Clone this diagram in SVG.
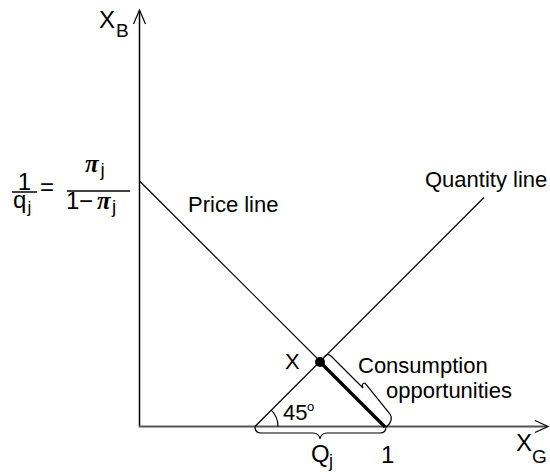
<svg xmlns="http://www.w3.org/2000/svg" width="550" height="472" viewBox="0 0 550 472">
<style>
text{font-family:"Liberation Sans",Arial,sans-serif;fill:#000}
.lbl{font-size:22px}
.big{font-size:24px}
.sub{font-size:17px}
.pi{font-family:"Liberation Serif","DejaVu Serif",serif;font-style:italic;font-weight:bold;font-size:25px}
.ln{fill:none;stroke:#000;stroke-width:1.2}
</style>
<rect width="550" height="472" fill="#fff"/>
<g id="connectors">
  <line id="y-axis" x1="139.5" y1="11" x2="139.5" y2="427" stroke="#000" stroke-width="1.5"/>
  <polyline points="133.5,24 139.5,10 145.5,24" class="ln" stroke-width="1.6"/>
  <line id="x-axis" x1="139" y1="426.5" x2="547" y2="426.5" stroke="#555" stroke-width="2"/>
  <polyline points="535,420.5 548,426.5 535,432.5" class="ln" stroke-width="1.6"/>
  <line id="price-line" x1="139.5" y1="181" x2="386" y2="427" class="ln"/>
  <line id="quantity-line" x1="255" y1="426.5" x2="484" y2="197.5" class="ln"/>
  <line id="consumption-seg" x1="320" y1="362" x2="385" y2="427" stroke="#000" stroke-width="3.2"/>
  <path id="angle-arc" d="M278,426.5 A23,23 0 0 0 271.3,410.2" class="ln"/>
  <path id="brace-bottom" d="M255,427 Q255,433 261,433 L313,433 Q319,433 320,439 Q321,433 327,433 L380,433 Q386,433 386,427" class="ln"/>
  <path id="brace-diagonal" d="M324,357 Q327,353 331,356 L356,381 Q359,384 363,388 Q361,383 365,383 L390,414 Q394,420 386.5,427" class="ln"/>
  <circle id="point-x" cx="320" cy="362" r="5" fill="#000"/>
</g>
<g id="label-xb"><text x="99" y="28" class="big">X</text><text x="116" y="37" class="sub" style="font-size:19px">B</text></g>
<g id="label-xg"><text x="516" y="451" class="big">X</text><text x="532" y="463" class="sub" style="font-size:19px">G</text></g>
<g id="label-intercept">
  <text x="24.5" y="189.5" class="big" text-anchor="middle">1</text>
  <line x1="12" y1="192" x2="37" y2="192" stroke="#000" stroke-width="1.5"/>
  <text x="13" y="208" class="big">q</text><text x="27.5" y="213" class="sub">j</text>
  <text x="40" y="195" class="big">=</text>
  <line x1="67" y1="191" x2="130" y2="191" stroke="#000" stroke-width="1.5"/>
  <text x="85" y="172" class="pi">π</text><text x="100.5" y="176" class="sub" style="font-size:19px">j</text>
  <text x="66" y="209" class="big">1</text>
  <text x="79" y="209" class="big">−</text>
  <text x="97" y="209" class="pi">π</text><text x="112" y="213" class="sub" style="font-size:19px">j</text>
</g>
<g id="label-price"><text x="188" y="211.5" class="lbl">Price line</text></g>
<g id="label-quantity"><text x="425" y="186.5" class="lbl">Quantity line</text></g>
<g id="label-x"><text x="285" y="369" class="lbl">X</text></g>
<g id="label-consumption"><text x="358" y="373" class="lbl">Consumption</text><text x="386" y="398" class="lbl">opportunities</text></g>
<g id="label-angle"><text x="283" y="420" class="lbl">45</text><text x="307" y="411" style="font-size:13px">o</text></g>
<g id="label-qj"><text x="311" y="462" class="big">Q</text><text x="329" y="467" class="sub" style="font-size:18px">j</text></g>
<g id="label-one"><text x="381" y="462.5" class="big">1</text></g>
</svg>
